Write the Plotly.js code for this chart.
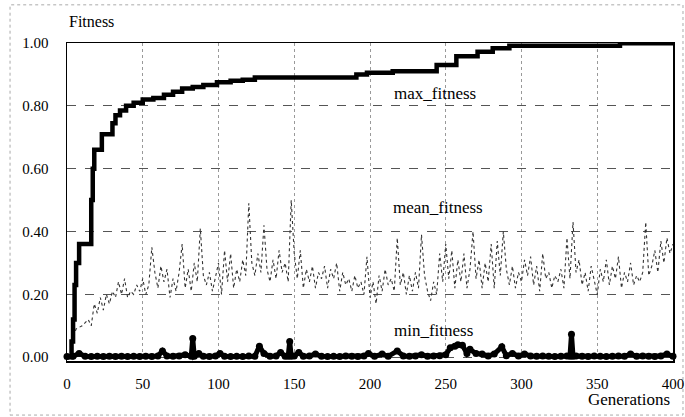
<!DOCTYPE html>
<html>
<head>
<meta charset="utf-8">
<script src="https://cdn.plot.ly/plotly-3.0.1.min.js"></script>
<style>html,body{margin:0;padding:0;background:#fff;}#chart{width:685px;height:417px;}
#chart text{font-family:"Liberation Serif","DejaVu Serif",serif !important;}</style>
</head>
<body>
<div id="chart"></div>
<script>
// ---- data ----
const maxGen = [0, 3, 4, 5, 6, 8, 16, 17, 18, 23, 30, 32, 35, 39, 44, 50, 57, 64, 70, 76, 83, 90, 99, 108, 116, 124, 191, 198, 215, 244, 257, 271, 281, 292, 365, 400];
const maxFitness = [0, 0.05, 0.12, 0.23, 0.30, 0.36, 0.50, 0.60, 0.66, 0.71, 0.745, 0.77, 0.785, 0.80, 0.81, 0.82, 0.825, 0.835, 0.845, 0.855, 0.86, 0.866, 0.875, 0.88, 0.883, 0.89, 0.90, 0.905, 0.91, 0.93, 0.958, 0.972, 0.983, 0.991, 0.999, 0.999];

const meanGen = [];
for (let g = 0; g <= 400; g += 2) meanGen.push(g);
const meanFitness = [
 0.00, 0.00, 0.06, 0.09, 0.095, 0.10, 0.11, 0.12, 0.10, 0.17,
 0.14, 0.19, 0.15, 0.20, 0.17, 0.21, 0.19, 0.24, 0.20, 0.25,
 0.19, 0.21, 0.20, 0.23, 0.21, 0.25, 0.20, 0.23, 0.35, 0.27,
 0.22, 0.29, 0.24, 0.28, 0.19, 0.25, 0.21, 0.27, 0.36, 0.22,
 0.28, 0.21, 0.30, 0.24, 0.41, 0.26, 0.23, 0.27, 0.21, 0.26,
 0.30, 0.20, 0.34, 0.24, 0.33, 0.22, 0.28, 0.24, 0.31, 0.26,
 0.49, 0.30, 0.26, 0.33, 0.27, 0.42, 0.28, 0.24, 0.31, 0.25,
 0.34, 0.27, 0.30, 0.24, 0.50, 0.33, 0.25, 0.34, 0.22, 0.28,
 0.24, 0.29, 0.22, 0.27, 0.25, 0.29, 0.22, 0.28, 0.25, 0.30,
 0.21, 0.27, 0.23, 0.25, 0.21, 0.26, 0.22, 0.24, 0.20, 0.32,
 0.19, 0.24, 0.17, 0.26, 0.21, 0.28, 0.23, 0.25, 0.21, 0.38,
 0.23, 0.27, 0.20, 0.26, 0.21, 0.27, 0.22, 0.39, 0.26, 0.21,
 0.18, 0.24, 0.20, 0.33, 0.24, 0.36, 0.25, 0.34, 0.22, 0.31,
 0.24, 0.33, 0.22, 0.28, 0.40, 0.25, 0.31, 0.22, 0.30, 0.24,
 0.36, 0.22, 0.37, 0.26, 0.40, 0.28, 0.23, 0.29, 0.22, 0.27,
 0.24, 0.31, 0.26, 0.32, 0.23, 0.29, 0.21, 0.33, 0.25, 0.27,
 0.22, 0.26, 0.24, 0.28, 0.22, 0.38, 0.25, 0.43, 0.27, 0.31,
 0.23, 0.27, 0.21, 0.29, 0.24, 0.20, 0.28, 0.24, 0.31, 0.23,
 0.29, 0.25, 0.32, 0.22, 0.27, 0.24, 0.30, 0.23, 0.26, 0.24,
 0.27, 0.43, 0.26, 0.29, 0.34, 0.27, 0.37, 0.30, 0.38, 0.33,
 0.36
];

const minGen = [0, 4, 8, 12, 16, 20, 24, 28, 32, 36, 40, 44, 48, 52, 56, 60, 63, 66, 70, 74, 78, 82, 83, 84, 87, 90, 94, 98, 101, 104, 108, 112, 116, 120, 124, 127, 130, 134, 138, 141, 144, 146, 147, 148, 150, 153, 156, 160, 164, 168, 172, 176, 180, 184, 188, 192, 196, 199, 203, 208, 212, 218, 222, 226, 230, 234, 238, 242, 246, 250, 253, 256, 258, 261, 264, 266, 270, 274, 278, 282, 287, 290, 294, 298, 302, 306, 310, 314, 318, 322, 326, 330, 332, 333, 334, 336, 340, 344, 348, 352, 356, 360, 364, 368, 372, 376, 380, 384, 388, 392, 396, 400];
const minFitness = [0.002, 0.003, 0.012, 0.003, 0.002, 0.003, 0.002, 0.003, 0.002, 0.003, 0.002, 0.003, 0.002, 0.003, 0.002, 0.004, 0.02, 0.004, 0.003, 0.004, 0.008, 0.003, 0.06, 0.003, 0.012, 0.003, 0.002, 0.004, 0.012, 0.003, 0.002, 0.003, 0.002, 0.004, 0.003, 0.035, 0.012, 0.003, 0.004, 0.015, 0.003, 0.003, 0.05, 0.003, 0.004, 0.015, 0.003, 0.004, 0.01, 0.003, 0.002, 0.003, 0.002, 0.004, 0.003, 0.002, 0.004, 0.012, 0.003, 0.01, 0.003, 0.02, 0.004, 0.003, 0.004, 0.008, 0.003, 0.004, 0.005, 0.008, 0.03, 0.035, 0.04, 0.038, 0.012, 0.025, 0.012, 0.01, 0.004, 0.01, 0.033, 0.005, 0.012, 0.004, 0.01, 0.004, 0.003, 0.004, 0.003, 0.002, 0.003, 0.004, 0.003, 0.073, 0.003, 0.004, 0.003, 0.002, 0.004, 0.003, 0.002, 0.003, 0.004, 0.003, 0.01, 0.003, 0.004, 0.003, 0.002, 0.004, 0.01, 0.003];

const xTicks = [0, 50, 100, 150, 200, 250, 300, 350, 400];
const yTicks = [0, 0.2, 0.4, 0.6, 0.8, 1.0];
const yTickLabels = ['0.00', '0.20', '0.40', '0.60', '0.80', '1.00'];

const seriesLabels = {max: 'max_fitness', mean: 'mean_fitness', min: 'min_fitness'};
const labelPos = {max: [243, 0.84], mean: [245, 0.478], min: [242, 0.086]};

const serif = 'Liberation Serif';

const traces = [
  {x: meanGen, y: meanFitness, mode: 'lines', type: 'scatter',
   line: {color: '#333', width: 1.1, dash: 'dot'}, hoverinfo: 'skip'},
  {x: minGen, y: minFitness, mode: 'lines+markers', type: 'scatter',
   line: {color: '#000', width: 5}, marker: {color: '#000', size: 7}, cliponaxis: false, hoverinfo: 'skip'},
  {x: maxGen, y: maxFitness, mode: 'lines', type: 'scatter',
   line: {color: '#000', width: 4.5, shape: 'hv'}, hoverinfo: 'skip'}
];

const layout = {
  width: 685, height: 417,
  margin: {l: 67, r: 12, t: 43, b: 56},
  paper_bgcolor: '#fff', plot_bgcolor: '#fff',
  showlegend: false,
  font: {family: serif, color: '#000', size: 14},
  xaxis: {
    range: [0, 400], tickvals: xTicks, ticks: '',
    showgrid: true, gridcolor: '#999', griddash: 'dot', gridwidth: 1,
    zeroline: false, showline: true, linecolor: '#000', linewidth: 1.5, mirror: true,
    tickfont: {family: serif, size: 15, color: '#000'}, ticklabelstandoff: 8,
    title: {text: ''}
  },
  yaxis: {
    range: [-0.012, 1.0], tickvals: yTicks, ticktext: yTickLabels, ticks: '',
    showgrid: true, gridcolor: '#555', griddash: 'dash', gridwidth: 1,
    zeroline: false, showline: true, linecolor: '#000', linewidth: 1.5, mirror: true,
    tickfont: {family: serif, size: 15, color: '#000'}, ticklabelstandoff: 14,
    title: {text: ''}
  },
  annotations: [
    {xref: 'paper', yref: 'paper', x: 0.0, y: 1.035, xanchor: 'left', yanchor: 'bottom',
     text: 'Fitness', showarrow: false, font: {family: serif, size: 16, color: '#000'}},
    {xref: 'paper', yref: 'paper', x: 0.998, y: -0.12, xanchor: 'right', yanchor: 'middle',
     text: 'Generations', showarrow: false, font: {family: serif, size: 17, color: '#000'}},
    {x: labelPos.max[0], y: labelPos.max[1], text: seriesLabels.max, showarrow: false, xanchor: 'center',
     font: {family: serif, size: 17, color: '#000'}},
    {x: labelPos.mean[0], y: labelPos.mean[1], text: seriesLabels.mean, showarrow: false, xanchor: 'center',
     font: {family: serif, size: 17, color: '#000'}},
    {x: labelPos.min[0], y: labelPos.min[1], text: seriesLabels.min, showarrow: false, xanchor: 'center',
     font: {family: serif, size: 17, color: '#000'}}
  ],
  shapes: [
    {type: 'rect', xref: 'paper', yref: 'paper', x0: -0.094, x1: 1.0165, y0: -0.17, y1: 1.12,
     line: {color: '#aaa', width: 1, dash: 'dot'}, fillcolor: 'rgba(0,0,0,0)', layer: 'below'}
  ]
};

Plotly.newPlot('chart', traces, layout, {displayModeBar: false, staticPlot: true});
</script>
</body>
</html>
